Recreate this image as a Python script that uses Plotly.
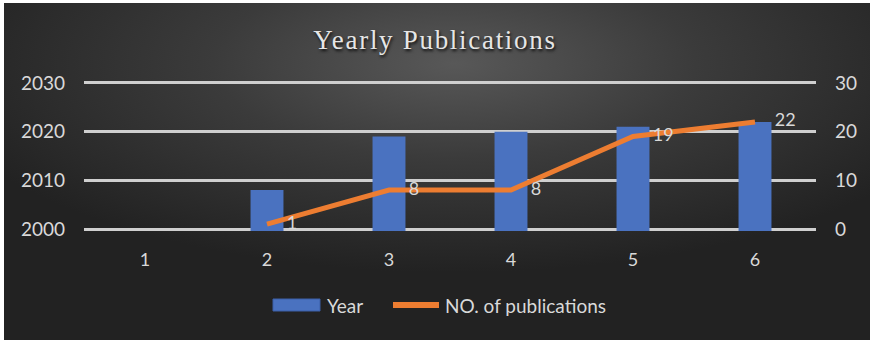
import base64
import plotly.graph_objects as go

# ---- data ----
categories = [1, 2, 3, 4, 5, 6]
year_values = [None, 2008, 2019, 2020, 2021, 2022]
publication_counts = [None, 1, 8, 8, 19, 22]
left_ticks = [2000, 2010, 2020, 2030]
right_ticks = [0, 10, 20, 30]

# ---- geometry ----
W, H = 870, 340
ML, MR, MT, MB = 84, 54, 81, 109
PW, PH = W - ML - MR, H - MT - MB

BLUE = "#4A72C0"
ORANGE = "#ED7D31"
TXT = "#D9D9D9"
FONT = "Lato"
EPS = 0.4  # small range padding so the edge gridlines are drawn

# pixel row of the 2000/0 gridline
BASE_PX = 229


def px_x(px):
    return (px - ML) / PW


def px_y(py):
    return (H - MB - py) / PH


# dark radial-gradient backdrop (with a thin light strip on top/left edges)
svg = f"""<svg xmlns='http://www.w3.org/2000/svg' width='{W}' height='{H}' viewBox='0 0 {W} {H}' preserveAspectRatio='none'>
<defs><radialGradient id='g' cx='0.52' cy='0.18' r='0.62'>
<stop offset='0' stop-color='#585858'/>
<stop offset='0.45' stop-color='#3b3b3b'/>
<stop offset='1' stop-color='#222222'/>
</radialGradient></defs>
<rect x='0' y='0' width='{W}' height='{H}' fill='#ffffff'/>
<rect x='4' y='3' width='{W-4}' height='{H-3}' fill='url(#g)'/>
</svg>"""
bg_uri = "data:image/svg+xml;base64," + base64.b64encode(svg.encode()).decode()

fig = go.Figure()

fig.add_trace(go.Bar(
    x=categories, y=year_values, name="Year",
    marker=dict(color=BLUE, line=dict(width=0)),
    width=0.27, yaxis="y", showlegend=False,
))

fig.add_trace(go.Scatter(
    x=categories, y=publication_counts, name="NO. of publications",
    mode="lines+markers+text", yaxis="y2",
    line=dict(color=ORANGE, width=5),
    marker=dict(size=30, color="rgba(0,0,0,0)"),
    text=[("" if v is None else str(v)) for v in publication_counts],
    textposition="middle right",
    textfont=dict(family=FONT, size=18, color=TXT),
    showlegend=False, cliponaxis=False,
))

fig.update_layout(
    width=W, height=H,
    margin=dict(l=ML, r=MR, t=MT, b=MB, pad=0),
    paper_bgcolor="#262626",
    plot_bgcolor="rgba(0,0,0,0)",
    images=[dict(
        source=bg_uri, xref="paper", yref="paper",
        x=-ML / PW, y=1 + MT / PH, sizex=W / PW, sizey=H / PH,
        xanchor="left", yanchor="top", sizing="stretch", layer="below",
    )],
    title=dict(
        text="<span style='letter-spacing:1.7px'>Yearly Publications</span>",
        x=0.5, xanchor="center", xref="container",
        y=1 - 40 / H, yanchor="middle", yref="container",
        font=dict(family="Liberation Serif", size=27, color="#E6E6E6",
                  shadow="1px 2px 3px rgba(0,0,0,0.85)"),
    ),
    xaxis=dict(
        range=[0.5, 6.5], tickvals=categories, ticktext=[str(c) for c in categories],
        showgrid=False, zeroline=False, showline=False, ticks="",
        ticklabelstandoff=16,
        tickfont=dict(family=FONT, size=18, color=TXT),
    ),
    yaxis=dict(
        range=[2000 - EPS, 2030 + EPS], tickvals=left_ticks,
        showgrid=True, gridcolor="#CFCFCF", gridwidth=2.5,
        zeroline=False, showline=False, ticks="",
        ticklabelstandoff=18,
        tickfont=dict(family=FONT, size=19, color=TXT),
    ),
    yaxis2=dict(
        range=[0 - EPS, 30 + EPS], tickvals=right_ticks, overlaying="y", side="right",
        showgrid=False, zeroline=False, showline=False, ticks="",
        ticklabelstandoff=18,
        tickfont=dict(family=FONT, size=19, color=TXT),
    ),
    showlegend=False,
)

# legend drawn by hand below the plot
legend_y = px_y(305)
fig.add_shape(type="rect", xref="paper", yref="paper",
              x0=px_x(273), x1=px_x(320), y0=px_y(311), y1=px_y(299),
              fillcolor=BLUE, line=dict(color="#3A5EA8", width=1))
fig.add_shape(type="line", xref="paper", yref="paper",
              x0=px_x(393), x1=px_x(439), y0=legend_y, y1=legend_y,
              line=dict(color=ORANGE, width=6))
fig.add_annotation(text="Year", xref="paper", yref="paper",
                   x=px_x(325), y=legend_y, xanchor="left", yanchor="middle",
                   showarrow=False, font=dict(family=FONT, size=19, color=TXT))
fig.add_annotation(text="NO. of publications", xref="paper", yref="paper",
                   x=px_x(443), y=legend_y, xanchor="left", yanchor="middle",
                   showarrow=False, font=dict(family=FONT, size=19, color=TXT))

fig.write_html("out.html")
